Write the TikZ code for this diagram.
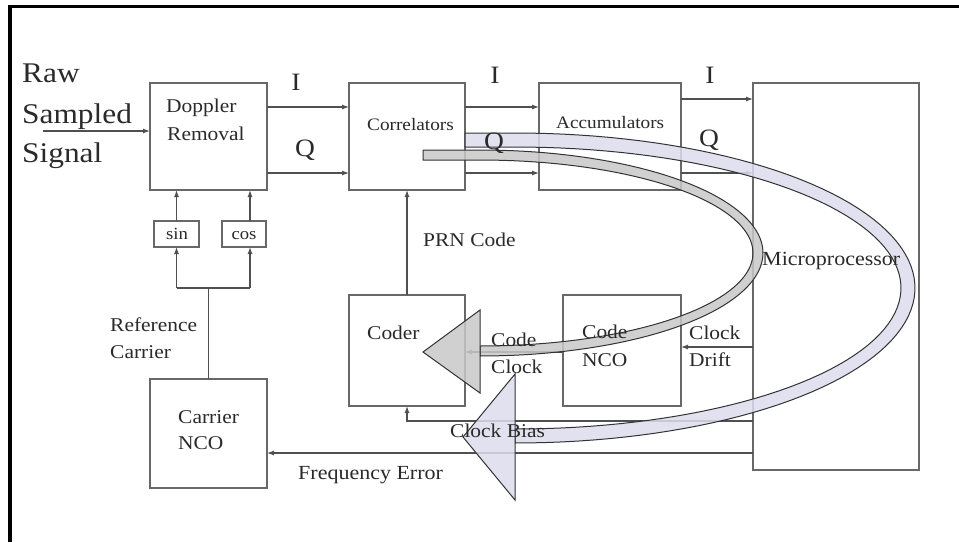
\documentclass[tikz,border=0pt]{standalone}
\usepackage{fontspec}
\setmainfont{Liberation Serif}[FakeStretch=1.1]
\usetikzlibrary{arrows.meta}
\definecolor{boxc}{HTML}{686868}
\definecolor{linec}{HTML}{505050}
\definecolor{textc}{HTML}{2A2A2A}
\definecolor{grayband}{HTML}{C8C8C8}
\definecolor{lavband}{HTML}{DCDCEE}
\definecolor{bandline}{HTML}{333333}
\tikzset{
  box/.style={draw=boxc, line width=1.3pt, inner sep=0pt, outer sep=0pt, anchor=north west},
  wire/.style={draw=linec, line width=1.2pt},
  conn/.style={wire, -{Latex[length=7pt,width=5pt]}},
  lbl/.style={text=textc, inner sep=0pt, anchor=base west, font=\fontsize{19.5}{22}\selectfont},
  midlbl/.style={lbl, font=\fontsize{17.5}{20}\selectfont},
  biglbl/.style={lbl, font=\fontsize{28.5}{32}\selectfont},
  iqlbl/.style={lbl, anchor=base, font=\fontsize{25}{30}\selectfont},
  band/.style={draw=bandline, line width=1pt, fill opacity=0.85},
}
\begin{document}
\begin{tikzpicture}[x=1pt,y=-1pt]
\useasboundingbox (0,0) rectangle (959,542);
\fill[white] (0,0) rectangle (959,542);
% frame
\draw[line width=3pt,black] (8,6.5) -- (959,6.5);
\draw[line width=3.5pt,black] (9.8,5) -- (9.8,542);

% boxes
\node[box, minimum width=117pt, minimum height=107pt] (dop) at (150,83) {};
\node[box, minimum width=116pt, minimum height=107pt] (cor) at (349,83) {};
\node[box, minimum width=142pt, minimum height=107pt] (acc) at (539,83) {};
\node[box, minimum width=166pt, minimum height=387pt] (mic) at (753,83) {};
\node[box, minimum width=45pt, minimum height=26pt] (sin) at (154,221) {};
\node[box, minimum width=44pt, minimum height=26pt] (cos) at (222,221) {};
\node[box, minimum width=116pt, minimum height=111pt] (cod) at (349,295) {};
\node[box, minimum width=118pt, minimum height=111pt] (nco) at (563,295) {};
\node[box, minimum width=117pt, minimum height=109pt] (car) at (150,379) {};
\draw[boxc, line width=2.5pt] (sin.north east) -- (sin.south east);
\draw[boxc, line width=2.5pt] (cos.north east) -- (cos.south east);

% level coordinates
\coordinate (rawin) at (43,131);
\coordinate (yRaw) at (0,131);
\coordinate (yI) at (0,107);
\coordinate (yQ) at (0,173);
\coordinate (yI2) at (0,99);
\coordinate (yJ) at (0,288);
\coordinate (xcos) at (250,0);
\coordinate (yCC) at (0,352);
\coordinate (yCD) at (0,347);
\coordinate (yCB) at (0,421);
\coordinate (yFE) at (0,453);

% connectors
\draw[conn] (rawin) -- (dop.west |- yRaw);
\draw[conn] (dop.east |- yI) -- (cor.west |- yI);
\draw[conn] (dop.east |- yQ) -- (cor.west |- yQ);
\draw[conn] (cor.east |- yI) -- (acc.west |- yI);
\draw[conn] (cor.east |- yQ) -- (acc.west |- yQ);
\draw[conn] (acc.east |- yI2) -- (mic.west |- yI2);
\draw[conn] (acc.east |- yQ) -- (mic.west |- yQ);
\draw[conn] (sin.north) -- (sin.north |- dop.south);
\draw[conn] (xcos |- cos.north) -- (xcos |- dop.south);
\draw[wire] (car.north) -- (car.north |- yJ);
\draw[wire] (sin.south |- yJ) -- (xcos |- yJ);
\draw[conn] (sin.south |- yJ) -- (sin.south);
\draw[conn] (xcos |- yJ) -- (xcos |- cos.south);
\draw[conn] (cod.north) -- (cod.north |- cor.south);
\draw[conn] (nco.west |- yCC) -- (cod.east |- yCC);
\draw[conn] (mic.west |- yCD) -- (nco.east |- yCD);
\draw[conn] (mic.west |- yCB) -- (cod.south |- yCB) -- (cod.south);
\draw[conn] (mic.west |- yFE) -- (car.east |- yFE);

% curved band arrows
\path[band, fill=lavband] (465,133) -- (515,133)
  -- plot[domain=90:-90, samples=80] ({515+400*cos(\x)},{288-155*sin(\x)})
  -- plot[domain=-90:90, samples=80] ({515+386*cos(\x)},{288-141*sin(\x)})
  -- (465,147) -- cycle;
\path[band, fill=lavband] (515,374) -- (463,437) -- (515,500) -- cycle;
\path[band, fill=grayband] (423,150) -- (480,150)
  -- plot[domain=90:-90, samples=80] ({480+283*cos(\x)},{253-103*sin(\x)})
  -- plot[domain=-90:90, samples=80] ({480+273*cos(\x)},{253-93*sin(\x)})
  -- (423,160) -- cycle;
\path[band, fill=grayband] (480,310) -- (423,352) -- (480,393) -- cycle;

% labels
\node[biglbl] (raw1) at (22,82) {Raw};
\node[biglbl] (raw2) at (22,123) {Sampled};
\node[biglbl] (raw3) at (22,162) {Signal};
\node[iqlbl] (i1) at (296,90) {I};
\node[iqlbl] (q1) at (305,156) {Q};
\node[iqlbl] (i2) at (495,83) {I};
\node[iqlbl] (q2) at (494,149) {Q};
\node[iqlbl] (i3) at (710,83) {I};
\node[iqlbl] (q3) at (709,146) {Q};
\node[lbl] (dopt1) at (166,112) {Doppler};
\node[lbl] (dopt2) at (167,140) {Removal};
\node[midlbl] (cort) at (367,130) {Correlators};
\node[midlbl] (acct) at (556,128) {Accumulators};
\node[lbl, font=\fontsize{20}{24}\selectfont] (mict) at (762,265) {Microprocessor};
\node[lbl] (codt) at (367,339) {Coder};
\node[lbl] (ncot1) at (582,338) {Code};
\node[lbl] (ncot2) at (582,366) {NCO};
\node[lbl] (cart1) at (178,423) {Carrier};
\node[lbl] (cart2) at (178,449) {NCO};
\node[lbl, anchor=base, font=\fontsize{17}{20}\selectfont] (sint) at (177,239) {sin};
\node[lbl, anchor=base, font=\fontsize{17}{20}\selectfont] (cost) at (244,239) {cos};
\node[lbl] (ref1) at (110,331) {Reference};
\node[lbl] (ref2) at (110,358) {Carrier};
\node[lbl] (prn) at (423,246) {PRN Code};
\node[lbl] (cc1) at (491,346) {Code};
\node[lbl] (cc2) at (491,373) {Clock};
\node[lbl] (cd1) at (689,339) {Clock};
\node[lbl] (cd2) at (689,366) {Drift};
\node[lbl] (cb) at (450,437) {Clock Bias};
\node[lbl, font=\fontsize{20}{24}\selectfont] (fe) at (298,479) {Frequency Error};
\end{tikzpicture}
\end{document}
